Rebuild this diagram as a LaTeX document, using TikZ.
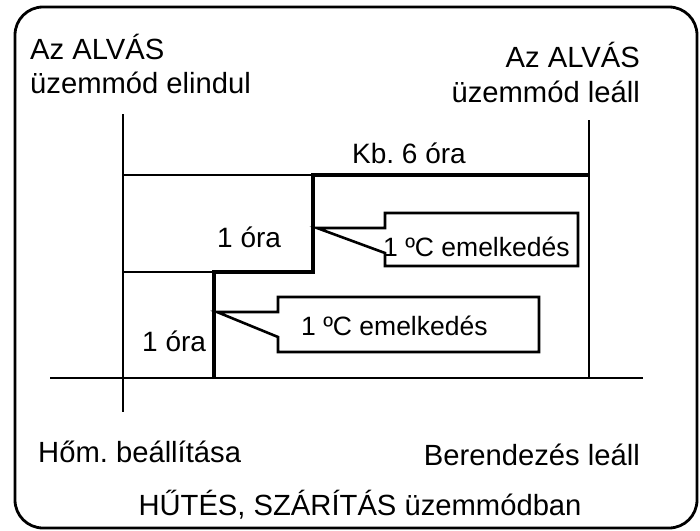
\documentclass[tikz,border=0pt]{standalone}
\usepackage{fontspec}
\setmainfont{Liberation Sans}
\frenchspacing
\begin{document}
\begin{tikzpicture}[x=1pt,y=-1pt,
  lbl/.style={inner sep=0pt,font=\fontsize{28}{34}\selectfont},
  olbl/.style={inner sep=0pt,font=\fontsize{29.2}{35}\selectfont},
  clbl/.style={inner sep=0pt,font=\fontsize{26.5}{32}\selectfont},
  thin line/.style={line width=2.4pt},
  thick line/.style={line width=4pt,line join=miter},
  callout/.style={line width=2.6pt,fill=white,line join=miter}]
\useasboundingbox (0,0) rectangle (700,530);
% frame
\draw[line width=2.8pt,rounded corners=28pt] (15,7) rectangle (697,528);
% axes
\coordinate (axT) at (123,114);
\coordinate (axB) at (123,412);
\coordinate (rvT) at (589,120);
\coordinate (rvB) at (589,378);
\coordinate (blL) at (50,378);
\coordinate (blR) at (643,378);
\draw[thin line] (axT) -- (axB);
\draw[line width=1.8pt] (rvT) -- (rvB);
\draw[thin line] (blL) -- (blR);
% level lines
\coordinate (t1) at (123,175);
\coordinate (t2) at (313,175);
\coordinate (m1) at (123,272);
\coordinate (m2) at (214,272);
\draw[thin line] (t1) -- (t2);
\draw[thin line] (m1) -- (m2);
% step
\coordinate (s0) at (589,175);
\coordinate (s3) at (313,272);
\coordinate (s5) at (214,378);
\draw[thick line] (s0) -- (t2) -- (s3) -- (m2) -- (s5);
% upper callout
\draw[callout] (317,228) -- (385,228) -- (385,213) -- (578,213) -- (578,266) -- (385,266) -- (385,253) -- cycle;
% lower callout
\draw[callout] (217,312) -- (278,312) -- (278,297) -- (539,297) -- (539,352) -- (278,352) -- (278,337) -- cycle;
% texts
\node[olbl,anchor=base west] (start1) at (30,59) {Az ALVÁS};
\node[olbl,anchor=base west] (start2) at (30,93) {üzemmód elindul};
\node[olbl,anchor=base east] (stop1) at (640,67) {Az ALVÁS};
\node[olbl,anchor=base east] (stop2) at (640,102) {üzemmód leáll};
\node[lbl,anchor=base west] (six) at (352,163) {Kb. 6 óra};
\node[lbl,anchor=base west] (h1) at (217,247) {1 óra};
\node[lbl,anchor=base west] (h2) at (142,351) {1 óra};
\node[clbl,anchor=base west] (c1) at (383,256) {1 ºC emelkedés};
\node[clbl,anchor=base west] (c2) at (301,335) {1 ºC emelkedés};
\node[olbl,anchor=base west] (set) at (38,462) {Hőm. beállítása};
\node[olbl,anchor=base east] (off) at (640,465) {Berendezés leáll};
\node[olbl,anchor=base] (mode) at (360,515) {HŰTÉS, SZÁRÍTÁS üzemmódban};
\end{tikzpicture}
\end{document}
